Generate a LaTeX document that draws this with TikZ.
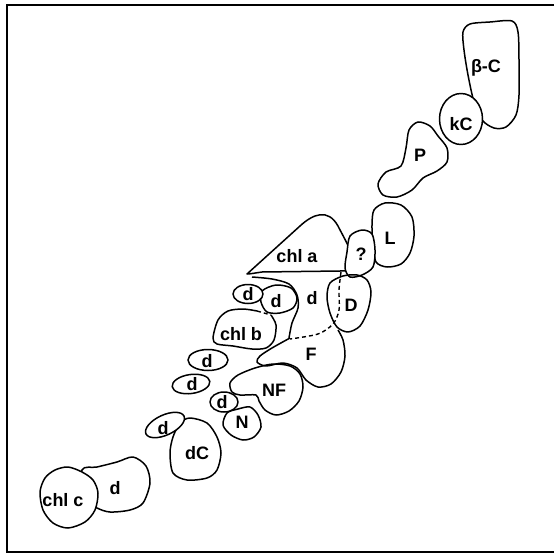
\documentclass[tikz,border=0pt]{standalone}
\usepackage{fontspec}
\setmainfont{Liberation Sans}
\begin{document}
\begin{tikzpicture}[x=1pt,y=-1pt,
  blob/.style={draw=black,line width=1.5pt,line join=round},
  wblob/.style={blob,fill=white},
  lbl/.style={font=\fontsize{18}{18}\selectfont\bfseries,inner sep=0pt},
  dsh/.style={draw=black,line width=1.4pt,dash pattern=on 4pt off 3pt}]
\useasboundingbox (0,0) rectangle (554,556);
% frame
\draw[line width=2.6pt] (554,5) -- (7,5) -- (7,552) -- (554,552);
% beta-C and kC
\draw[blob] plot[smooth cycle] coordinates {(463,32) (470,24) (490,22) (512,21) (518,32) (519,60) (519,95) (516,115) (506,127) (494,128) (482,120) (474,102) (468,75) (464,50)};
\draw[wblob] (461,119) ellipse [x radius=21.5, y radius=25.5];
% P
\draw[blob] plot[smooth cycle] coordinates {(409,130) (418,122) (430,126) (438,136) (447,148) (447,162) (437,171) (423,178) (412,190) (397,197) (383,195) (378,184) (386,172) (401,166) (406,148)};
% L
\draw[blob] plot[smooth cycle] coordinates {(374,210) (385,203) (401,205) (412,217) (414,236) (410,253) (401,264) (387,267) (376,262) (373,245) (372,225)};
% chl a
\draw[blob] (247,274) -- (300,226) .. controls (313,214) and (328,208) .. (338,226) .. controls (345,240) and (352,250) .. (352,262) .. controls (352,270) and (348,271) .. (340,271) -- (262,272) .. controls (255,273) and (250,274) .. cycle;
% ?
\draw[wblob] plot[smooth cycle] coordinates {(350,236) (362,230) (372,234) (375,250) (373,267) (362,275) (350,277) (345,268) (347,252)};
% D
\draw[blob] plot[smooth cycle] coordinates {(330,283) (343,276) (357,275) (367,280) (371,292) (368,310) (360,326) (348,332) (337,327) (330,313) (327,297)};
% big d boundary
\draw[blob] plot[smooth] coordinates {(252,277) (272,279) (289,284) (297,295) (298,308) (292,323) (289,338)};
% d2
\draw[blob] plot[smooth cycle] coordinates {(262,291) (276,285) (291,288) (297,298) (293,308) (280,313) (267,312) (261,302)};
% chl b
\fill[white] plot[smooth] coordinates {(257,311) (243,309) (228,311) (218,320) (213,338) (217,344) (233,346) (252,349) (266,348) (274,340) (276,325) (271,315)};
\draw[blob] plot[smooth] coordinates {(257,311) (243,309) (228,311) (218,320) (213,338) (217,344) (233,346) (252,349) (266,348) (274,340) (276,325) (271,315)};
\draw[dsh] (257,311) -- (271,315);
% d1
\draw[wblob] (248,294) ellipse [x radius=15, y radius=9.5];
% F
\draw[blob] plot[smooth] coordinates {(290,338) (272,348) (260,356) (257,362) (266,366) (283,363) (297,368) (306,380) (318,387) (331,384) (341,372) (345,356) (343,340) (338,330)};
\draw[dsh] plot[smooth] coordinates {(341,272) (339,290) (339,310) (333,324) (318,334) (290,339)};
% d3, d4
\draw[blob] (208,360) ellipse [x radius=20, y radius=10.5];
\draw[blob,rotate around={8:(191,384)}] (191,384) ellipse [x radius=19, y radius=9.5];
% NF, N, d5
\draw[blob] plot[smooth cycle] coordinates {(240,395) (232,392) (230,383) (238,375) (255,368) (273,364) (290,366) (300,374) (303,387) (299,401) (289,411) (276,415) (265,410) (259,401) (256,395)};
\draw[blob] plot[smooth cycle] coordinates {(227,413) (238,409) (250,407) (258,415) (261,427) (254,437) (243,440) (231,435) (223,425)};
\draw[wblob] (224,402) ellipse [x radius=14, y radius=10];
% dC, d6
\draw[blob] plot[smooth cycle] coordinates {(190,418) (207,423) (217,437) (221,453) (217,470) (207,478) (187,480) (173,473) (170,453) (173,437) (180,423)};
\draw[wblob,rotate around={25:(165,425)}] (165,425) ellipse [x radius=21, y radius=10];
% d7, chl c
\draw[blob] plot[smooth cycle] coordinates {(82,470) (97,467) (117,462) (133,457) (146,466) (150,483) (143,503) (130,510) (110,512) (97,508) (85,500)};
\draw[wblob] plot[smooth cycle] coordinates {(55,470) (68,467) (82,472) (93,480) (98,493) (95,510) (85,522) (68,528) (53,523) (43,510) (40,492) (45,478)};
% labels
\node[lbl] (tbc) at (486,68) {β-C};
\node[lbl] (tkc) at (461,124) {kC};
\node[lbl] (tp) at (420,155) {P};
\node[lbl] (tl) at (390,238) {L};
\node[lbl] (tq) at (361,254) {?};
\node[lbl] (tchla) at (297,256) {chl a};
\node[lbl] (td) at (351,305) {D};
\node[lbl] (tdbig) at (312,298) {d};
\node[lbl] (td1) at (248,294) {d};
\node[lbl] (td2) at (276,301) {d};
\node[lbl] (tchlb) at (241,334) {chl b};
\node[lbl] (tf) at (311,354) {F};
\node[lbl] (td3) at (207,361) {d};
\node[lbl] (td4) at (192,384) {d};
\node[lbl] (tnf) at (274,390) {NF};
\node[lbl] (td5) at (222,402) {d};
\node[lbl] (tn) at (242,422) {N};
\node[lbl] (td6) at (163,428) {d};
\node[lbl] (tdc) at (197,453) {dC};
\node[lbl] (tchlc) at (63,500) {chl c};
\node[lbl] (td7) at (115,488) {d};
\end{tikzpicture}
\end{document}
